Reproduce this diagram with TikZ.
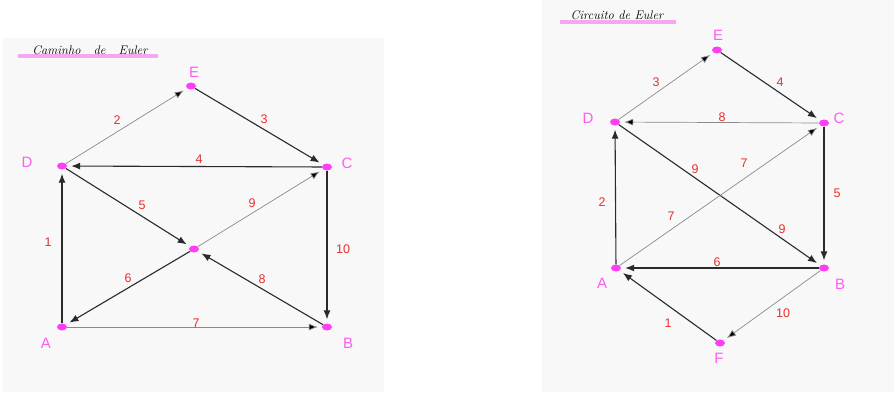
\documentclass[tikz,border=0pt]{standalone}
\usepackage{fontspec}
\setmainfont{Liberation Sans}
\usetikzlibrary{shapes.geometric,arrows.meta}
\definecolor{panel}{HTML}{F8F8F8}
\definecolor{mag}{HTML}{FF3DF5}
\definecolor{maglab}{HTML}{FF5CF0}
\definecolor{redlab}{HTML}{E8302E}
\definecolor{uline}{HTML}{F7A6F2}
\definecolor{gryedge}{HTML}{8A8A8A}
\definecolor{blkedge}{HTML}{2A2A2A}
\tikzset{
  vdot/.style={ellipse,fill=mag,minimum width=10pt,minimum height=7pt,inner sep=0pt},
  vlab/.style={text=maglab,font=\fontsize{15}{15}\selectfont,inner sep=0pt},
  elab/.style={text=redlab,font=\fontsize{12.5}{12.5}\selectfont,inner sep=0pt},
  ttl/.style={font=\fontfamily{lmr}\itshape\fontsize{12.5}{12.5}\selectfont,inner sep=0pt},
  darkarrow/.style={draw=blkedge,line width=1.1pt,-{Latex[length=9pt,width=7pt]},shorten >=4pt},
  greyarrow/.style={draw=gryedge,line width=0.7pt,-{Latex[length=9pt,width=7pt,fill=black]},shorten >=4pt},
  ulinestyle/.style={draw=uline,line width=3.5pt}
}
\begin{document}
\begin{tikzpicture}[x=1pt,y=-1pt]
\useasboundingbox (0,0) rectangle (894,392);
\fill[white] (0,0) rectangle (894,392);
\fill[panel] (3,38) rectangle (384,392);
\fill[panel] (542,0) rectangle (894,392);

% ---------- left: Caminho de Euler ----------
\coordinate (ul1) at (18,56);
\coordinate (ul2) at (158,56);
\draw[ulinestyle] (ul1) -- (ul2);
\node[ttl] (t1) at (90,50) {Caminho\ \ \ de\ \ \ Euler};

\node[vdot] (E) at (191,86) {};
\node[vdot] (D) at (62,166) {};
\node[vdot] (C) at (327,167) {};
\node[vdot] (X) at (194,249) {};
\node[vdot] (A) at (62,327) {};
\node[vdot] (B) at (327,327) {};

\node[vlab] (lE) at (194,72) {E};
\node[vlab] (lD) at (27,162) {D};
\node[vlab] (lC) at (347,163) {C};
\node[vlab] (lA) at (46,343) {A};
\node[vlab] (lB) at (348,343) {B};

\draw[greyarrow] (D) -- (E);
\draw[darkarrow] (E) -- (C);
\draw[darkarrow] (C) -- (D);
\draw[darkarrow] (D) -- (X);
\draw[greyarrow] (X) -- (C);
\draw[darkarrow] (X) -- (A);
\draw[greyarrow] (A) -- (B);
\draw[darkarrow] (B) -- (X);
\draw[darkarrow] (A) -- (D);
\draw[darkarrow] (C) -- (B);

\node[elab] (w1) at (48,242) {1};
\node[elab] (w2) at (117,120) {2};
\node[elab] (w3) at (264,119) {3};
\node[elab] (w4) at (199,159) {4};
\node[elab] (w5) at (142,205) {5};
\node[elab] (w6) at (128,278) {6};
\node[elab] (w7) at (196,323) {7};
\node[elab] (w8) at (262,279) {8};
\node[elab] (w9) at (252,203) {9};
\node[elab] (w10) at (343,249) {10};

% ---------- right: Circuito de Euler ----------
\coordinate (ur1) at (560,22);
\coordinate (ur2) at (676,22);
\draw[ulinestyle] (ur1) -- (ur2);
\node[ttl] (t2) at (617,15) {Circuito de Euler};

\node[vdot] (E2) at (717,50) {};
\node[vdot] (D2) at (615,122) {};
\node[vdot] (C2) at (824,123) {};
\node[vdot] (A2) at (616,268) {};
\node[vdot] (B2) at (824,268) {};
\node[vdot] (F2) at (720,343) {};

\node[vlab] (lE2) at (718,35) {E};
\node[vlab] (lD2) at (588,118) {D};
\node[vlab] (lC2) at (839,118) {C};
\node[vlab] (lA2) at (602,283) {A};
\node[vlab] (lB2) at (840,284) {B};
\node[vlab] (lF2) at (719,358) {F};

\draw[greyarrow] (D2) -- (E2);
\draw[darkarrow] (E2) -- (C2);
\draw[greyarrow] (C2) -- (D2);
\draw[darkarrow] (C2) -- (B2);
\draw[darkarrow] (D2) -- (B2);
\draw[greyarrow] (A2) -- (C2);
\draw[darkarrow] (B2) -- (A2);
\draw[darkarrow] (A2) -- (D2);
\draw[greyarrow] (B2) -- (F2);
\draw[darkarrow] (F2) -- (A2);

\node[elab] (r3) at (656,82) {3};
\node[elab] (r4) at (780,82) {4};
\node[elab] (r8) at (722,117) {8};
\node[elab] (r9a) at (695,169) {9};
\node[elab] (r7a) at (744,163) {7};
\node[elab] (r2) at (602,202) {2};
\node[elab] (r5) at (837,193) {5};
\node[elab] (r7b) at (671,216) {7};
\node[elab] (r9b) at (782,229) {9};
\node[elab] (r6) at (717,262) {6};
\node[elab] (r10) at (783,313) {10};
\node[elab] (r1) at (668,323) {1};
\end{tikzpicture}
\end{document}
